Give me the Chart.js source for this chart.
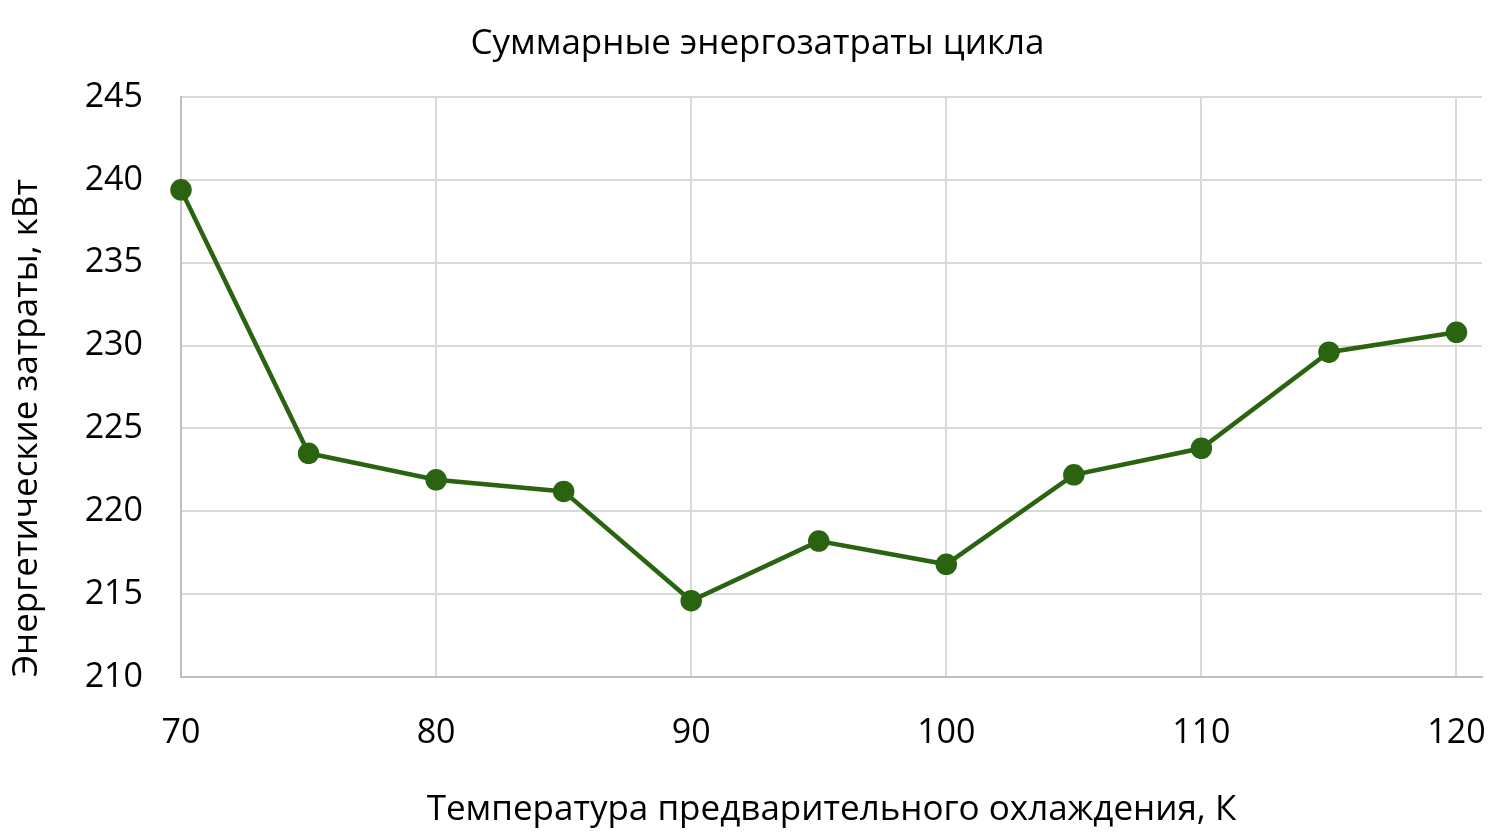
<!DOCTYPE html>
<html>
<head>
<meta charset="utf-8">
<script src="https://cdn.jsdelivr.net/npm/chart.js@4/dist/chart.umd.min.js"></script>
<style>
html,body{margin:0;padding:0;background:#fff;}
#wrap{width:1505px;height:837px;position:relative;}
</style>
</head>
<body>
<div id="wrap"><canvas id="c" width="1505" height="837"></canvas></div>
<script>
const chartTitle = 'Суммарные энергозатраты цикла';
const xTitle = 'Температура предварительного охлаждения, К';
const yTitle = 'Энергетические затраты, кВт';
const temperatures = [70, 75, 80, 85, 90, 95, 100, 105, 110, 115, 120];
const energy = [239.4, 223.5, 221.9, 221.2, 214.6, 218.2, 216.8, 222.2, 223.8, 229.6, 230.8];
const xTicks = [70, 80, 90, 100, 110, 120];
const yTicks = [210, 215, 220, 225, 230, 235, 240, 245];

const FONT = "'Open Sans', 'Noto Sans', sans-serif";
const green = '#2a6410';

new Chart(document.getElementById('c'), {
  type: 'line',
  data: {
    datasets: [{
      data: temperatures.map((t, i) => ({x: t, y: energy[i]})),
      borderColor: green,
      backgroundColor: green,
      borderWidth: 4.5,
      pointRadius: 8.5,
      pointHoverRadius: 8.5,
      pointBackgroundColor: green,
      pointBorderColor: green,
      tension: 0,
      clip: false
    }]
  },
  options: {
    responsive: false,
    animation: false,
    layout: {padding: {top: 0, right: 0, bottom: 0, left: 10}},
    plugins: {
      legend: {display: false},
      tooltip: {enabled: false},
      title: {
        display: true,
        text: chartTitle,
        color: '#000',
        font: {family: FONT, size: 35, weight: 'normal'},
        padding: {top: 23, bottom: 32}
      }
    },
    scales: {
      x: {
        type: 'linear',
        min: 70,
        max: 121,
        afterBuildTicks: s => { s.ticks = xTicks.map(v => ({value: v})); },
        afterFit: s => { s.height = 837 - 677; s.paddingLeft = 0; s.paddingRight = 23; },
        ticks: {color: '#000', font: {family: FONT, size: 34}, padding: 36, maxRotation: 0, autoSkip: false},
        grid: {color: '#d9d9d9', lineWidth: 2, drawTicks: false},
        border: {color: '#bfbfbf', width: 2},
        title: {display: true, text: xTitle, color: '#000', font: {family: FONT, size: 35}, padding: {top: 0, bottom: 6}}
      },
      y: {
        type: 'linear',
        min: 210,
        max: 245,
        afterBuildTicks: s => { s.ticks = yTicks.map(v => ({value: v})); },
        afterFit: s => { s.width = 171; s.paddingTop = 0; s.paddingBottom = 0; },
        ticks: {color: '#000', font: {family: FONT, size: 34}, padding: 38},
        grid: {color: '#d9d9d9', lineWidth: 2, drawTicks: false},
        border: {color: '#bfbfbf', width: 2},
        title: {display: true, text: yTitle, align: 'start', color: '#000', font: {family: FONT, size: 35}, padding: {top: -4, bottom: 0}}
      }
    }
  }
});
</script>
</body>
</html>
